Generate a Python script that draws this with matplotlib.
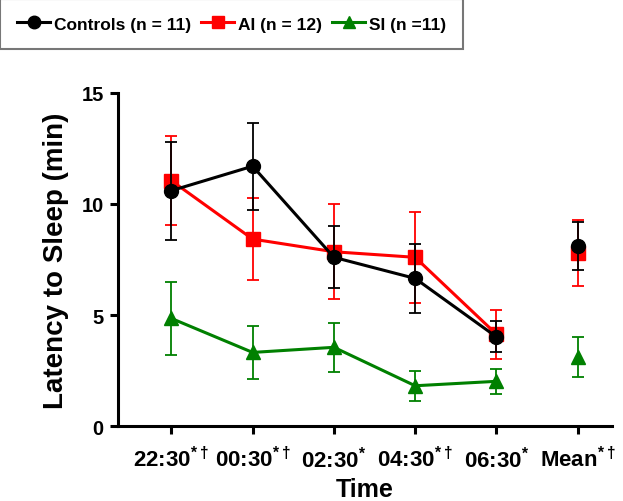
import matplotlib
matplotlib.use("Agg")
import matplotlib.pyplot as plt
from matplotlib.lines import Line2D

# values (min), last entry is the overall mean
time_labels = [r"22:30$^{*\dagger}$", r"00:30$^{*\dagger}$", r"02:30$^{*}$",
               r"04:30$^{*\dagger}$", r"06:30$^{*}$", r"Mean$^{*\dagger}$"]

controls_mean = [10.6, 11.7, 7.6, 6.65, 4.02, 8.1]
controls_sem = [2.2, 1.95, 1.4, 1.56, 0.7, 1.07]

ai_mean = [11.05, 8.42, 7.85, 7.6, 4.14, 7.8]
ai_sem = [2.0, 1.86, 2.14, 2.05, 1.1, 1.47]

si_mean = [4.85, 3.32, 3.55, 1.82, 2.02, 3.1]
si_sem = [1.65, 1.18, 1.1, 0.67, 0.57, 0.9]

group_names = ["Controls (n = 11)", "AI (n = 12)", "SI (n =11)"]

plt.rcParams["font.family"] = ["Liberation Sans", "DejaVu Sans"]
plt.rcParams["font.weight"] = "bold"
plt.rcParams["mathtext.fontset"] = "custom"
plt.rcParams["mathtext.rm"] = "Liberation Sans"
plt.rcParams["mathtext.default"] = "rm"


def draw_group(ax, means, sems, color, marker, z):
    x = list(range(len(means)))
    # time points connected, mean drawn apart
    ax.errorbar(x[:5], means[:5], yerr=sems[:5], color=color, marker=marker,
                markersize=10, linewidth=2.2, elinewidth=1.3, capsize=4.5,
                capthick=1.3, zorder=z)
    ax.errorbar(x[5:], means[5:], yerr=sems[5:], color=color, marker=marker,
                markersize=10, linestyle="none", elinewidth=1.3, capsize=4.5,
                capthick=1.3, zorder=z)


def main():
    fig = plt.figure(figsize=(6.23, 5.02), dpi=100)
    ax = fig.add_axes([0.189, 0.149, 0.793, 0.664])

    draw_group(ax, si_mean, si_sem, "#008000", "^", 3)
    draw_group(ax, ai_mean, ai_sem, "#ff0000", "s", 4)
    draw_group(ax, controls_mean, controls_sem, "black", "o", 5)

    ax.set_ylim(0, 15)
    ax.set_xlim(-0.66, 5.42)
    ax.set_yticks([0, 5, 10, 15])
    ax.set_xticks(range(len(time_labels)))
    ax.set_xticklabels(time_labels)
    ax.spines["top"].set_visible(False)
    ax.spines["right"].set_visible(False)
    ax.spines["left"].set_linewidth(2.2)
    ax.spines["bottom"].set_linewidth(2.2)
    ax.tick_params(width=2.2, length=6, direction="out")
    ax.tick_params(axis="y", labelsize=14.5, pad=4)
    ax.tick_params(axis="x", labelsize=16, pad=8)
    ax.set_xlabel("Time", fontsize=18, fontweight="bold", labelpad=4)
    ax.set_ylabel("Latency to Sleep (min)", fontsize=20, fontweight="bold", labelpad=9)

    handles = [
        Line2D([], [], color="black", marker="o", markersize=9, linewidth=2.2),
        Line2D([], [], color="#ff0000", marker="s", markersize=9, linewidth=2.2),
        Line2D([], [], color="#008000", marker="^", markersize=9, linewidth=2.2),
    ]
    leg = fig.legend(handles, group_names, loc="upper left", bbox_to_anchor=(0.0, 1.0),
                     ncol=3, frameon=True, fancybox=False,
                     handlelength=1.9, handletextpad=0.2, columnspacing=0.6,
                     borderpad=1.0, borderaxespad=0.0,
                     prop={"weight": "bold", "size": 12.5})
    leg.get_frame().set_edgecolor("#555555")
    leg.get_frame().set_linewidth(1.5)

    fig.savefig("out.png", dpi=100)
    plt.close(fig)


if __name__ == "__main__":
    main()
